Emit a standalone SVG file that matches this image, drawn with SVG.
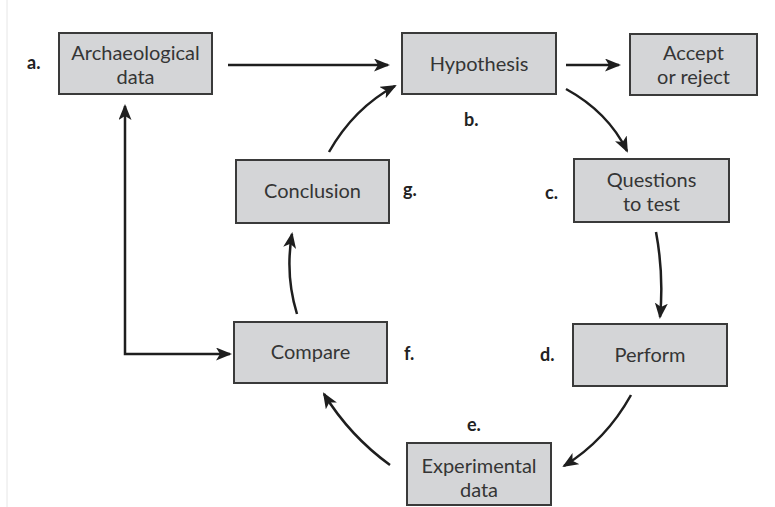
<svg xmlns="http://www.w3.org/2000/svg" width="775" height="507" viewBox="0 0 775 507">
<defs>
<style>
.box{fill:#d4d5d7;stroke:#3a3a3a;stroke-width:2}
.t{font-family:Lato,"Open Sans","Liberation Sans",sans-serif;font-size:20px;fill:#353535;text-anchor:middle}
.lab{font-family:Lato,"Open Sans","Liberation Sans",sans-serif;font-size:18px;font-weight:bold;fill:#222}
.c{fill:none;stroke:#1e1e1e;stroke-width:2.5}
</style>
<marker id="ah" markerUnits="userSpaceOnUse" markerWidth="17" markerHeight="14" refX="14" refY="6.5" orient="auto-start-reverse">
<path d="M0,0 L16,6.5 L0,13 L4,6.5 z" fill="#1e1e1e"/>
</marker>
</defs>
<rect width="775" height="507" fill="#fff"/>
<line x1="7" y1="0" x2="7" y2="507" stroke="#e6e6e6" stroke-width="1"/>
<g id="connectors">
<path class="c" d="M228 65 L388 65" marker-end="url(#ah)"/>
<path class="c" d="M566 65 L619 65" marker-end="url(#ah)"/>
<path class="c" d="M566 89 Q608 112 627 151" marker-end="url(#ah)"/>
<path class="c" d="M656 232 Q664 275 660 317" marker-end="url(#ah)"/>
<path class="c" d="M631 395 Q606 440 564 466" marker-end="url(#ah)"/>
<path class="c" d="M390 465 Q350 436 324 394" marker-end="url(#ah)"/>
<path class="c" d="M297 314 Q285 275 292 234" marker-end="url(#ah)"/>
<path class="c" d="M329 152 Q354 108 395 86" marker-end="url(#ah)"/>
<path class="c" d="M125 106 L125 354 L230 354" marker-start="url(#ah)" marker-end="url(#ah)"/>
</g>
<g id="archaeological">
<rect class="box" x="59" y="33" width="153" height="61"/>
<text class="t" x="135.5" y="60">Archaeological</text>
<text class="t" x="135.5" y="84">data</text>
<text class="lab" x="27" y="69">a.</text>
</g>
<g id="hypothesis">
<rect class="box" x="402" y="33" width="154" height="61"/>
<text class="t" x="479" y="71">Hypothesis</text>
<text class="lab" x="464" y="126">b.</text>
</g>
<g id="accept">
<rect class="box" x="630" y="34" width="127" height="61"/>
<text class="t" x="693.5" y="60">Accept</text>
<text class="t" x="693.5" y="84">or reject</text>
</g>
<g id="questions">
<rect class="box" x="574" y="159" width="155" height="63"/>
<text class="t" x="651.5" y="187">Questions</text>
<text class="t" x="651.5" y="211">to test</text>
<text class="lab" x="545" y="199">c.</text>
</g>
<g id="perform">
<rect class="box" x="573" y="324" width="154" height="62"/>
<text class="t" x="650" y="362">Perform</text>
<text class="lab" x="540" y="361">d.</text>
</g>
<g id="experimental">
<rect class="box" x="407" y="443" width="144" height="62"/>
<text class="t" x="479" y="473">Experimental</text>
<text class="t" x="479" y="497">data</text>
<text class="lab" x="467" y="431">e.</text>
</g>
<g id="compare">
<rect class="box" x="234" y="322" width="153" height="61"/>
<text class="t" x="310.5" y="359">Compare</text>
<text class="lab" x="404" y="360">f.</text>
</g>
<g id="conclusion">
<rect class="box" x="236" y="160" width="153" height="63"/>
<text class="t" x="312.5" y="198">Conclusion</text>
<text class="lab" x="403" y="196">g.</text>
</g>
</svg>
